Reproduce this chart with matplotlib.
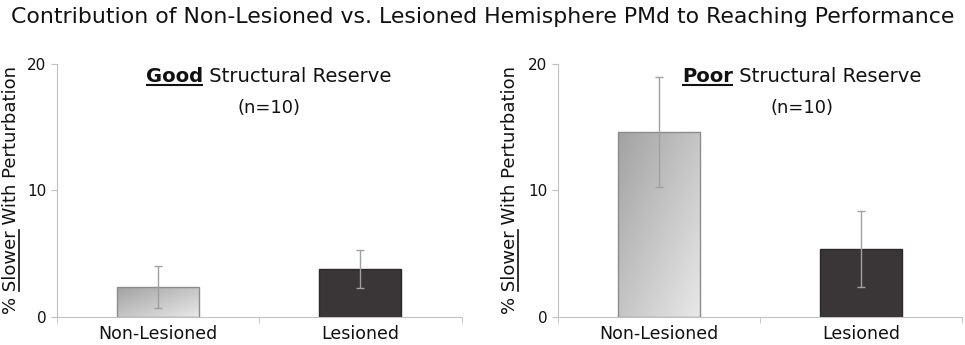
import numpy as np
import matplotlib
matplotlib.use("Agg")
import matplotlib.pyplot as plt
from matplotlib.colors import LinearSegmentedColormap

categories = ["Non-Lesioned", "Lesioned"]
good_vals = [2.37, 3.78]
good_err = [1.65, 1.5]
poor_vals = [14.65, 5.36]
poor_err = [4.35, 3.04]
n_text = "(n=10)"

plt.rcParams['font.family'] = ['DejaVu Sans']

fig = plt.figure(figsize=(9.65, 3.45), dpi=100)
fig.text(0.5, 0.95, "Contribution of Non-Lesioned vs. Lesioned Hemisphere PMd to Reaching Performance",
         ha='center', va='center', fontsize=15.8, color='#111111')

grad_cmap = LinearSegmentedColormap.from_list("g", ["#a2a2a2", "#e8e8e8"])


def rich_text(ax, x, y, segments, size):
    # segments: (text, weight, underline)
    fig.canvas.draw()
    r = fig.canvas.get_renderer()
    texts = []
    widths = []
    for s, w, u in segments:
        t = ax.text(0, y, s, transform=ax.transAxes, fontsize=size, fontweight=w,
                    ha='left', va='baseline', color='#111111')
        bb = t.get_window_extent(renderer=r)
        texts.append(t)
        widths.append(bb.width)
    total = sum(widths)
    x0_pix = ax.transAxes.transform((x, y))[0] - total / 2
    ybase = ax.transAxes.transform((x, y))[1]
    cur = x0_pix
    for (s, w, u), t, wd in zip(segments, texts, widths):
        xa = ax.transAxes.inverted().transform((cur, ybase))[0]
        t.set_x(xa)
        if u:
            xb = ax.transAxes.inverted().transform((cur + wd, ybase))[0]
            yu = ax.transAxes.inverted().transform((cur, ybase - 3.5))[1]
            ax.plot([xa, xb], [yu, yu], transform=ax.transAxes, color='#111111',
                    lw=1.5, clip_on=False, solid_capstyle='butt')
        cur += wd


def panel(left, vals, errs):
    ax = fig.add_axes([left / 965, (345 - 316.7) / 345, 404.5 / 965, 252.7 / 345])
    x = np.arange(len(categories))
    bars = ax.bar(x, vals, width=0.405, color=['none', '#3a3536'],
                  edgecolor=['#8c8c8c', '#2a2a2a'], linewidth=1, zorder=2)
    b = bars[0]
    gx, gy = np.meshgrid(np.linspace(0, 1, 100), np.linspace(0, 1, 100))
    g = (gx + gy) / 2
    im = ax.imshow(g, cmap=grad_cmap, extent=[b.get_x(), b.get_x() + b.get_width(), 0, b.get_height()],
                   origin='upper', aspect='auto', zorder=1.5)
    im.set_clip_path(b)
    ax.errorbar(x, vals, yerr=errs, fmt='none', ecolor='#a0a0a0', elinewidth=1,
                capsize=3, capthick=1, zorder=3)
    ax.set_xlim(-0.5, 1.5)
    ax.set_ylim(0, 20)
    ax.set_yticks([0, 10, 20])
    ax.set_xticks(x)
    ax.set_xticklabels(categories, fontsize=12.5, color='#111111')
    ax.set_xticks([-0.5, 0.5, 1.5], minor=True)
    ax.tick_params(axis='x', which='major', length=0, pad=6)
    ax.tick_params(axis='x', which='minor', length=4, color='#c0c0c0')
    ax.tick_params(axis='y', length=4, color='#c0c0c0', labelsize=11, labelcolor='#111111')
    for s in ['top', 'right']:
        ax.spines[s].set_visible(False)
    for s in ['left', 'bottom']:
        ax.spines[s].set_color('#c0c0c0')
    return ax


ax1 = panel(57, good_vals, good_err)
ax2 = panel(557.7, poor_vals, poor_err)

fig.canvas.draw()
for ax, word, cx in [(ax1, "Good", (268.7 - 57) / 404.5), (ax2, "Poor", (801.5 - 557.7) / 404.5)]:
    rich_text(ax, cx, (316.7 - 82) / 252.7, [(word, 'bold', True), (" Structural Reserve", 'normal', False)], 14.1)
    ax.text(cx, (316.7 - 108) / 252.7, n_text, transform=ax.transAxes, ha='center', va='center',
            fontsize=13, color='#111111')

# rotated y labels with underlined word
for xl in [11, 510]:
    full = "% Slower With Perturbation"
    t = fig.text(xl / 965, (345 - 190) / 345, full, rotation=90, ha='center', va='center',
                 fontsize=13, color='#111111')
    fig.canvas.draw()
    r = fig.canvas.get_renderer()
    bb = t.get_window_extent(renderer=r)
    tmp = fig.text(0, 0, "% ", fontsize=13)
    w1 = tmp.get_window_extent(renderer=r).width
    tmp.set_text("% Slower")
    w2 = tmp.get_window_extent(renderer=r).width
    tmp.remove()
    y0 = bb.y0 + w1
    y1 = bb.y0 + w2
    xu = bb.x1 - 1
    fig.add_artist(plt.Line2D([xu / 965, xu / 965], [y0 / 345, y1 / 345], transform=fig.transFigure,
                              color='#111111', lw=1.2))

fig.savefig("out.png", dpi=100)
